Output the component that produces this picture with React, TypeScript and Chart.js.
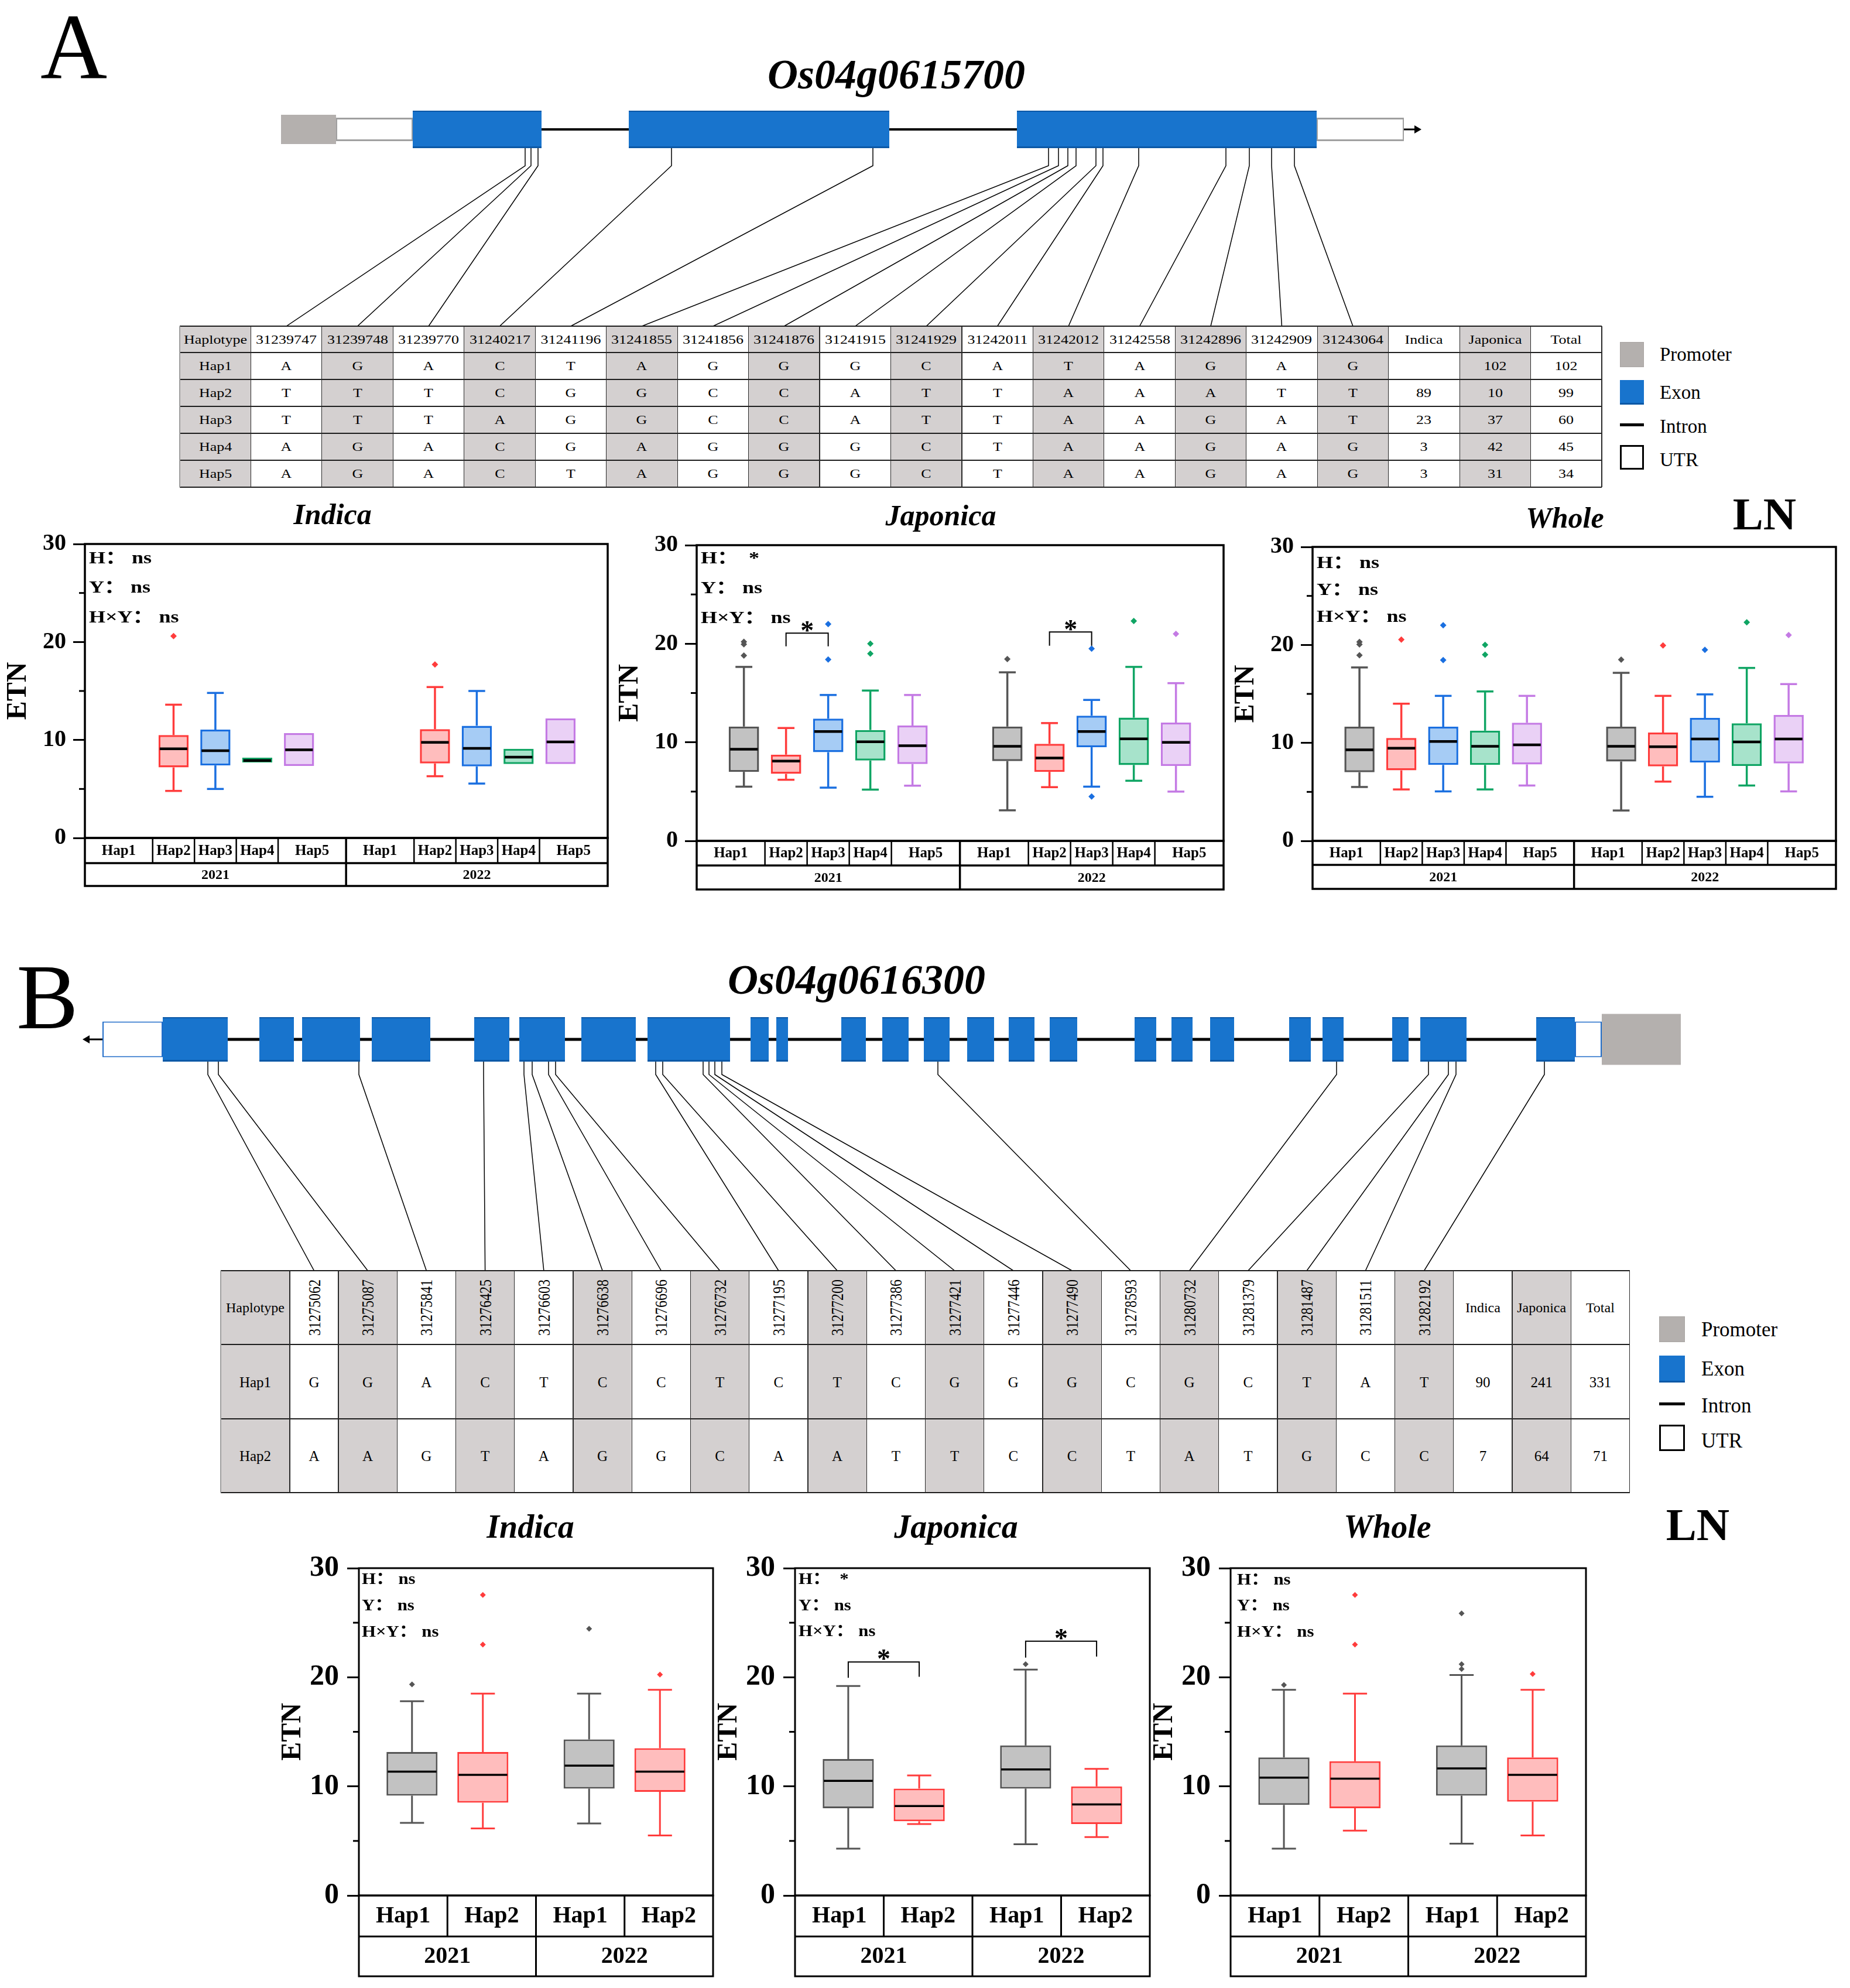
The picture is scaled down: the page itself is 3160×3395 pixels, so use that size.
import React, { useEffect, useRef } from 'react';
import { Chart, registerables } from 'chart.js';

Chart.register(...registerables);

const SERIF = '"Liberation Serif", "Times New Roman", "Noto Sans CJK SC", serif';
const GRAY = '#D4D0D0';
const EXON = '#1874CD';
const EXON_EDGE = '#0C58A6';
const PROMOTER = '#B4B0AE';

// ---------------- gene models (schematic units along each gene drawing) ----------------
const GENE_A_PROMOTER = [[0, 94]];
const GENE_A_UTR = [[94, 225], [1769, 1918]];
const GENE_A_EXONS = [[225, 445], [594, 1039], [1257, 1769]];
const GENE_A_INTRON = [[225, 1769]];
const GENE_A_ARROW = [1918, 1948];
const GENE_A_SNP_SITES = [417, 427, 439, 667, 1011, 1311, 1328, 1344, 1358, 1392, 1404, 1465, 1614, 1654, 1692, 1731];

const GENE_B_UTR = [[0, 103], [2515, 2561]];
const GENE_B_PROMOTER = [[2561, 2696]];
const GENE_B_EXONS = [[103, 214], [268, 327], [341, 440], [460, 560], [635, 695], [712, 790], [818, 911], [931, 1072], [1107, 1138], [1151, 1171], [1262, 1304], [1332, 1377], [1403, 1447], [1477, 1523], [1548, 1592], [1618, 1665], [1763, 1800], [1826, 1862], [1892, 1933], [2027, 2064], [2084, 2120], [2203, 2231], [2251, 2330], [2449, 2515]];
const GENE_B_INTRON = [[103, 2515]];
const GENE_B_ARROW = [0, -34];
const GENE_B_SNP_SITES = [180, 198, 438, 651, 720, 734, 762, 774, 945, 957, 1026, 1036, 1046, 1058, 1427, 2108, 2265, 2299, 2312, 2463];

// ---------------- haplotype tables ----------------
const A_SNP_IDS = ['31239747', '31239748', '31239770', '31240217', '31241196', '31241855', '31241856', '31241876', '31241915', '31241929', '31242011', '31242012', '31242558', '31242896', '31242909', '31243064'];
const HAPS_A = ['Hap1', 'Hap2', 'Hap3', 'Hap4', 'Hap5'];
const A_ALLELES = ['AGACTAGGGCATAGAG', 'TTTCGGCCATTAAATT', 'TTTAGGCCATTAAGAT', 'AGACGAGGGCTAAGAG', 'AGACTAGGGCTAAGAG'];
const A_INDICA_N = ['', '89', '23', '3', '3'];
const A_JAPONICA_N = ['102', '10', '37', '42', '31'];
const A_TOTAL_N = ['102', '99', '60', '45', '34'];

const B_SNP_IDS = ['31275062', '31275087', '31275841', '31276425', '31276603', '31276638', '31276696', '31276732', '31277195', '31277200', '31277386', '31277421', '31277446', '31277490', '31278593', '31280732', '31281379', '31281487', '31281511', '31282192'];
const HAPS_B = ['Hap1', 'Hap2'];
const B_ALLELES = ['GGACTCCTCTCGGGCGCTAT', 'AAGTAGGCAATTCCTATGCC'];
const B_INDICA_N = ['90', '7'];
const B_JAPONICA_N = ['241', '64'];
const B_TOTAL_N = ['331', '71'];

const COUNT_HEADERS = ['Indica', 'Japonica', 'Total'];
const LEGEND_LABELS = ['Promoter', 'Exon', 'Intron', 'UTR'];

// ---------------- box plot data: [lower whisker, Q1, median, Q3, upper whisker] ----------------
const YEARS = ['2021', '2022'];
const POS_A = [[1, 2, 3, 4, 5], [7.25, 8.25, 9.25, 10.25, 11.25]];
const RANGE_A = [-0.12, 12.38];
const POS_B = [[1, 2], [3.5, 4.5]];
const RANGE_B = [0.25, 5.25];

const A_IND_2021 = [null, [4.8, 7.2, 9.1, 10.5, 13.6], [5.0, 7.4, 8.9, 11.05, 14.8], [7.7, 7.7, 7.9, 8.2, 8.2], [7.35, 7.35, 9.0, 10.7, 10.7]];
const A_IND_2022 = [null, [6.3, 7.6, 9.75, 11.1, 15.4], [5.55, 7.3, 9.15, 11.45, 15.0], [7.55, 7.55, 8.25, 9.1, 9.1], [7.55, 7.55, 9.8, 12.2, 12.2]];
const A_IND_OUT_2021 = [[], [20.6], [], [], []];
const A_IND_OUT_2022 = [[], [17.7], [], [], []];

const A_JAP_2021 = [[5.5, 7.0, 9.3, 11.6, 17.65], [6.2, 6.8, 8.1, 8.75, 11.45], [5.4, 9.0, 11.1, 12.4, 14.8], [5.2, 8.15, 10.05, 11.25, 15.25], [5.6, 7.8, 9.65, 11.7, 14.8]];
const A_JAP_2022 = [[3.1, 8.1, 9.6, 11.6, 17.1], [5.45, 7.0, 8.4, 9.85, 11.95], [5.5, 9.5, 11.1, 12.7, 14.3], [6.1, 7.7, 10.35, 12.5, 17.65], [5.0, 7.6, 10.0, 12.0, 16.0]];
const A_JAP_OUT_2021 = [[20.2, 19.95, 18.8], [], [22.0, 18.4], [20.0, 19.0], []];
const A_JAP_OUT_2022 = [[18.45], [], [19.5, 4.5], [22.3], [21.0]];

const A_WHO_2021 = [[5.5, 7.0, 9.3, 11.65, 17.7], [5.25, 7.2, 9.45, 10.5, 14.0], [5.05, 7.75, 10.15, 11.65, 14.8], [5.25, 7.75, 9.65, 11.25, 15.25], [5.65, 7.8, 9.8, 12.05, 14.8]];
const A_WHO_2022 = [[3.1, 8.1, 9.65, 11.65, 17.15], [6.05, 7.6, 9.6, 11.05, 14.8], [4.5, 8.0, 10.4, 12.55, 14.95], [5.65, 7.65, 10.1, 12.0, 17.65], [5.05, 7.9, 10.4, 12.85, 16.0]];
const A_WHO_OUT_2021 = [[20.3, 20.05, 18.95], [20.55], [22.0, 18.45], [20.0, 19.0], []];
const A_WHO_OUT_2022 = [[18.5], [19.95], [19.5], [22.3], [21.0]];

const B_IND_2021 = [[6.65, 9.15, 11.35, 13.15, 17.8], [6.15, 8.5, 11.05, 13.15, 18.5]];
const B_IND_2022 = [[6.6, 9.8, 11.9, 14.3, 18.5], [5.5, 9.5, 11.35, 13.5, 18.85]];
const B_IND_OUT_2021 = [[19.35], [27.55, 23.0]];
const B_IND_OUT_2022 = [[24.45], [20.25]];

const B_JAP_2021 = [[4.3, 8.0, 10.5, 12.5, 19.2], [6.55, 6.8, 8.2, 9.8, 11.0]];
const B_JAP_2022 = [[4.7, 9.8, 11.55, 13.75, 20.7], [5.35, 6.55, 8.35, 10.0, 11.6]];
const B_JAP_OUT_2021 = [[], []];
const B_JAP_OUT_2022 = [[21.2], []];

const B_WHO_2021 = [[4.3, 8.3, 10.8, 12.65, 18.85], [5.95, 8.0, 10.7, 12.3, 18.5]];
const B_WHO_2022 = [[4.75, 9.15, 11.65, 13.75, 20.2], [5.5, 8.6, 11.05, 12.65, 18.85]];
const B_WHO_OUT_2021 = [[19.3], [27.55, 23.0]];
const B_WHO_OUT_2022 = [[25.85, 21.2, 20.75], [20.3]];

// significance brackets: year group, from hap, to hap, bar height, left leg end, right leg end
const A_JAP_BRACKETS = [[0, 1, 2, 21.07, 19.74, 19.74], [1, 1, 2, 21.2, 19.8, 19.8]];
const B_JAP_BRACKETS = [[0, 0, 1, 21.4, 19.95, 20.05], [1, 0, 1, 23.3, 21.8, 21.9]];

const STATS_NS = ['H： ns', 'Y： ns', 'H×Y： ns'];
const STATS_H = ['H：  *', 'Y： ns', 'H×Y： ns'];

const STROKE = ['#555555', '#FF3C3C', '#1A6FE0', '#10A564', '#C47AE4'];
const FILL = ['#C2C2C2', '#FFBDBD', '#A6CCF5', '#A7E3CB', '#EAD1F6'];

// ---------------- styles ----------------
const STYLE_A = { tickFont: 40, tickPad: 12, etnFont: 48, etnOff: 113, catFont: 25, yearFont: 24, boxW: 0.72, capW: 0.4, lw: 3.5, medW: 4.5, frameW: 3.5, innerW: 2.5, outR: 5.5, starFont: 46, starGap: 13, bracketW: 2, tickW: 3, statFont: 30, statSx: 1.2 };
const STYLE_B = { tickFont: 50, tickPad: 14, etnFont: 48, etnOff: 112, catFont: 40, yearFont: 40, boxW: 0.72, capW: 0.34, lw: 3, medW: 3.5, frameW: 3, innerW: 3, outR: 5, starFont: 46, starGap: 14, bracketW: 2, tickW: 3, statFont: 28, statSx: 1.1 };

// ---------------- gene chart ----------------
function makeGenePlugin(g: any) {
  return {
    id: 'geneDecor',
    afterDatasetsDraw(chart: any) {
      const { ctx } = chart;
      const xs = chart.scales.x;
      const xt = chart.scales.xt;
      const cy = chart.scales.y.getPixelForValue(0);
      const y0 = cy + g.exonT / 2;
      const y1 = y0 + g.kink;
      const y2 = chart.height;
      ctx.save();
      ctx.strokeStyle = '#000';
      ctx.lineWidth = 1.5;
      g.sites.forEach((s: number, i: number) => {
        const x0 = xs.getPixelForValue(s);
        const x2 = xt.getPixelForValue(g.colCenters[i]);
        ctx.beginPath();
        ctx.moveTo(x0, y0);
        ctx.lineTo(x0, y1);
        ctx.lineTo(x2, y2);
        ctx.stroke();
      });
      // strand arrow
      const a0 = xs.getPixelForValue(g.arrow[0]);
      const a1 = xs.getPixelForValue(g.arrow[1]);
      const dir = Math.sign(a1 - a0);
      const head = 12;
      ctx.lineWidth = 3;
      ctx.beginPath();
      ctx.moveTo(a0, cy);
      ctx.lineTo(a1 - dir * head, cy);
      ctx.stroke();
      ctx.fillStyle = '#000';
      ctx.beginPath();
      ctx.moveTo(a1, cy);
      ctx.lineTo(a1 - dir * head, cy - 7);
      ctx.lineTo(a1 - dir * head, cy + 7);
      ctx.closePath();
      ctx.fill();
      ctx.restore();
    },
  };
}

function geneConfig(g: any) {
  const mk = (arr: number[][]) => arr.map(([a, b]) => ({ x: [a, b], y: 'g' }));
  const common = { grouped: false, borderSkipped: false, inflateAmount: 0, xAxisID: 'x', yAxisID: 'y' };
  return {
    type: 'bar',
    data: {
      labels: ['g'],
      datasets: [
        { ...common, label: 'intron', data: mk(g.intron), backgroundColor: '#000', barThickness: g.intronT, order: 4 },
        { ...common, label: 'UTR', data: mk(g.utr), backgroundColor: '#fff', borderColor: g.utrColor, borderWidth: g.utrBW, barThickness: g.utrT, order: 3 },
        { ...common, label: 'promoter', data: mk(g.promoter), backgroundColor: PROMOTER, barThickness: g.promT, order: 2 },
        { ...common, label: 'exon', data: mk(g.exons), backgroundColor: EXON, borderColor: EXON_EDGE, borderWidth: { top: 2, bottom: 3, left: 0, right: 0 }, barThickness: g.exonT, order: 1 },
      ],
    },
    options: {
      indexAxis: 'y',
      animation: false,
      responsive: false,
      devicePixelRatio: 1,
      events: [],
      layout: { padding: { top: 0, left: 0, right: 0, bottom: g.h - g.rowH } },
      plugins: { legend: { display: false }, tooltip: { enabled: false } },
      scales: {
        x: { type: 'linear', min: g.xmin, max: g.xmax, display: false },
        xt: { type: 'linear', axis: 'x', min: g.tmin, max: g.tmax, display: false },
        y: { type: 'category', display: false, offset: true },
      },
    },
    plugins: [makeGenePlugin(g)],
  };
}

function GeneChart({ g }: { g: any }) {
  const ref = useRef<HTMLCanvasElement>(null);
  useEffect(() => {
    const chart = new Chart(ref.current as any, geneConfig(g) as any);
    return () => chart.destroy();
  }, []);
  return <canvas ref={ref} width={g.w} height={g.h} style={{ position: 'absolute', left: g.left, top: g.top, width: g.w, height: g.h }} />;
}

// ---------------- tables ----------------
const A_TABLE = { left: 307, top: 557, widths: Array(20).fill(121.45), heights: [45, 46, 46, 46, 46, 46] };
const B_TABLE = { left: 377, top: 2170, widths: [118, 83, ...Array(22).fill(100.25)], heights: [126, 127, 126] };

function columnCenters(layout: any, n: number, unit: number) {
  const out: number[] = [];
  let acc = layout.widths[0];
  for (let i = 0; i < n; i++) {
    const w = layout.widths[i + 1];
    out.push((acc + w / 2) / unit);
    acc += w;
  }
  return out;
}

function HapTable({ layout, header, rows, font, headFont, sx, rotCount, rotFont, rotSy }: any) {
  const { left, top, widths, heights } = layout;
  const xs: number[] = [];
  let acc = 0;
  widths.forEach((w: number) => { xs.push(acc); acc += w; });
  const W = acc;
  const ys: number[] = [];
  let ay = 0;
  heights.forEach((h: number) => { ys.push(ay); ay += h; });
  const H = ay;
  const kids: any[] = [];
  widths.forEach((w: number, i: number) => kids.push(
    <div key={`bg${i}`} style={{ position: 'absolute', left: xs[i], top: 0, width: w, height: H, background: i % 2 === 0 ? GRAY : '#fff' }} />
  ));
  const cell = (key: string, cx: number, cy: number, txt: string, size: number, rot: boolean, s: number) => (
    <div key={key} style={{ position: 'absolute', left: cx, top: cy, fontFamily: SERIF, fontSize: size, lineHeight: 1, whiteSpace: 'nowrap', color: '#000', transform: rot ? `translate(-50%,-50%) rotate(-90deg) scaleY(${s})` : `translate(-50%,-50%) scaleX(${s})` }}>{txt}</div>
  );
  header.forEach((t: string, i: number) => {
    const rot = rotCount > 0 && i >= 1 && i <= rotCount;
    kids.push(cell(`h${i}`, xs[i] + widths[i] / 2, heights[0] / 2, t, rot ? rotFont : headFont, rot, rot ? rotSy : sx));
  });
  rows.forEach((r: string[], ri: number) => r.forEach((t: string, i: number) => {
    kids.push(cell(`c${ri}_${i}`, xs[i] + widths[i] / 2, ys[ri + 1] + heights[ri + 1] / 2, t, font, false, sx));
  }));
  [...ys, H].forEach((yy, k) => kids.push(
    <div key={`hl${k}`} style={{ position: 'absolute', left: 0, top: yy - 1.25, width: W, height: 2.5, background: '#1E1E1E' }} />
  ));
  [...xs, W].forEach((xx, k) => kids.push(
    <div key={`vl${k}`} style={{ position: 'absolute', left: xx - 0.6, top: 0, width: 1.2, height: H, background: k === 0 ? '#A0A0A0' : '#2A2A2A' }} />
  ));
  return <div style={{ position: 'absolute', left, top, width: W, height: H }}>{kids}</div>;
}

function GeneLegend({ x, w, textX, font, items }: any) {
  return (
    <>
      {items.map((it: any, i: number) => {
        let sw: any;
        if (i === 0) sw = { background: PROMOTER, border: '1px solid #A8A4A2', boxSizing: 'border-box' };
        else if (i === 1) sw = { background: EXON, borderBottom: '3px solid ' + EXON_EDGE, boxSizing: 'border-box' };
        else if (i === 2) sw = { background: '#000' };
        else sw = { background: '#fff', border: '3px solid #000', boxSizing: 'border-box' };
        return (
          <React.Fragment key={i}>
            <div style={{ position: 'absolute', left: x, top: it.top, width: w, height: it.h, ...sw }} />
            <div style={{ position: 'absolute', left: textX, top: it.ty, transform: 'translate(0,-50%)', fontFamily: SERIF, fontSize: font, lineHeight: 1, whiteSpace: 'nowrap', color: '#000' }}>{LEGEND_LABELS[i]}</div>
          </React.Fragment>
        );
      })}
    </>
  );
}

// ---------------- box plot panels ----------------
function makePanelPlugin(p: any) {
  const st = p.st;
  return {
    id: 'panelDecor',
    beforeDatasetsDraw(chart: any) {
      const { ctx } = chart;
      const x = chart.scales.x;
      const y = chart.scales.y;
      const u = Math.abs(x.getPixelForValue(1) - x.getPixelForValue(0));
      ctx.save();
      ctx.lineWidth = st.lw;
      p.stats.forEach((grp: any[], gi: number) => grp.forEach((s: number[] | null, h: number) => {
        if (!s) return;
        const cx = x.getPixelForValue(p.pos[gi][h]);
        const hw = (st.capW * u) / 2;
        ctx.strokeStyle = STROKE[h];
        const whisk = (from: number, to: number) => {
          const a = y.getPixelForValue(from);
          const b = y.getPixelForValue(to);
          ctx.beginPath();
          ctx.moveTo(cx, a);
          ctx.lineTo(cx, b);
          ctx.stroke();
          ctx.beginPath();
          ctx.moveTo(cx - hw, b);
          ctx.lineTo(cx + hw, b);
          ctx.stroke();
        };
        if (s[0] < s[1]) whisk(s[1], s[0]);
        if (s[4] > s[3]) whisk(s[3], s[4]);
      }));
      ctx.restore();
    },
    afterDatasetsDraw(chart: any) {
      const { ctx } = chart;
      const x = chart.scales.x;
      const y = chart.scales.y;
      const u = Math.abs(x.getPixelForValue(1) - x.getPixelForValue(0));
      const half = (st.boxW * u) / 2 - st.lw * 0.6;
      ctx.save();
      ctx.strokeStyle = '#000';
      ctx.lineWidth = st.medW;
      p.stats.forEach((grp: any[], gi: number) => grp.forEach((s: number[] | null, h: number) => {
        if (!s) return;
        const cx = x.getPixelForValue(p.pos[gi][h]);
        const yy = y.getPixelForValue(s[2]);
        ctx.beginPath();
        ctx.moveTo(cx - half, yy);
        ctx.lineTo(cx + half, yy);
        ctx.stroke();
      }));
      ctx.restore();
    },
    afterDraw(chart: any) {
      const { ctx, chartArea: ca } = chart;
      const x = chart.scales.x;
      const y = chart.scales.y;
      ctx.save();
      ctx.strokeStyle = '#000';
      ctx.fillStyle = '#000';
      // minor ticks
      ctx.lineWidth = st.tickW;
      y.ticks.forEach((t: any) => {
        if (t.value % 10 === 0) return;
        const yy = y.getPixelForValue(t.value);
        ctx.beginPath();
        ctx.moveTo(ca.left - 10, yy);
        ctx.lineTo(ca.left, yy);
        ctx.stroke();
      });
      // frame
      ctx.lineWidth = st.frameW;
      ctx.strokeRect(ca.left, ca.top, ca.right - ca.left, ca.bottom - ca.top);
      // category table under the plot
      const T = ca.bottom;
      const M = T + p.rows[0];
      const B = M + p.rows[1];
      ctx.strokeRect(ca.left, T, ca.right - ca.left, B - T);
      ctx.beginPath();
      ctx.moveTo(ca.left, M);
      ctx.lineTo(ca.right, M);
      ctx.stroke();
      const px = (v: number) => x.getPixelForValue(v);
      const lastA = p.pos[0][p.pos[0].length - 1];
      const sep = (px(lastA) + px(p.pos[1][0])) / 2;
      const groupEdges = [[ca.left, sep], [sep, ca.right]];
      ctx.beginPath();
      ctx.moveTo(sep, T);
      ctx.lineTo(sep, B);
      ctx.stroke();
      ctx.textAlign = 'center';
      ctx.textBaseline = 'middle';
      p.pos.forEach((grp: number[], gi: number) => {
        const bounds = [groupEdges[gi][0]];
        for (let i = 0; i < grp.length - 1; i++) bounds.push((px(grp[i]) + px(grp[i + 1])) / 2);
        bounds.push(groupEdges[gi][1]);
        ctx.lineWidth = st.innerW;
        for (let i = 1; i < bounds.length - 1; i++) {
          ctx.beginPath();
          ctx.moveTo(bounds[i], T);
          ctx.lineTo(bounds[i], M);
          ctx.stroke();
        }
        ctx.font = `bold ${st.catFont}px ${SERIF}`;
        p.haps.forEach((hn: string, i: number) => ctx.fillText(hn, (bounds[i] + bounds[i + 1]) / 2, (T + M) / 2 + 1));
        ctx.font = `bold ${st.yearFont}px ${SERIF}`;
        ctx.fillText(YEARS[gi], (groupEdges[gi][0] + groupEdges[gi][1]) / 2, (M + B) / 2 + 1);
      });
      // significance brackets
      ctx.lineWidth = st.bracketW;
      p.brackets.forEach((b: number[]) => {
        const [gi, h1, h2, yh, l1, l2] = b;
        const x1 = px(p.pos[gi][h1]);
        const x2 = px(p.pos[gi][h2]);
        const yy = y.getPixelForValue(yh);
        ctx.beginPath();
        ctx.moveTo(x1, y.getPixelForValue(l1));
        ctx.lineTo(x1, yy);
        ctx.lineTo(x2, yy);
        ctx.lineTo(x2, y.getPixelForValue(l2));
        ctx.stroke();
        ctx.font = `bold ${st.starFont}px ${SERIF}`;
        ctx.textBaseline = 'alphabetic';
        ctx.fillText('*', (x1 + x2) / 2, yy + st.starFont * 0.52 - st.starGap);
        ctx.textBaseline = 'middle';
      });
      ctx.restore();
    },
  };
}

function panelConfig(p: any) {
  const st = p.st;
  const u = (p.frame.r - p.frame.l) / (p.range[1] - p.range[0]);
  const datasets: any[] = [];
  p.haps.forEach((name: string, h: number) => {
    const boxes: any[] = [];
    p.stats.forEach((grp: any[], gi: number) => {
      const s = grp[h];
      if (s) boxes.push({ x: p.pos[gi][h], y: [s[1], s[3]] });
    });
    datasets.push({ type: 'bar', label: name, data: boxes, backgroundColor: FILL[h], borderColor: STROKE[h], borderWidth: st.lw, borderSkipped: false, barThickness: st.boxW * u, grouped: false, inflateAmount: 0, order: 2 });
    const pts: any[] = [];
    p.outs.forEach((grp: number[][], gi: number) => grp[h].forEach((v: number) => pts.push({ x: p.pos[gi][h], y: v })));
    datasets.push({ type: 'scatter', label: name + ' outliers', data: pts, pointStyle: 'rectRot', pointRadius: st.outR, backgroundColor: STROKE[h], borderColor: STROKE[h], pointBackgroundColor: STROKE[h], pointBorderWidth: 0, showLine: false, order: 1 });
  });
  return {
    type: 'bar',
    data: { datasets },
    options: {
      animation: false,
      responsive: false,
      devicePixelRatio: 1,
      events: [],
      layout: { padding: { top: 40, right: 12, bottom: p.rows[0] + p.rows[1] + 12, left: 0 } },
      plugins: { legend: { display: false }, tooltip: { enabled: false } },
      scales: {
        x: { type: 'linear', min: p.range[0], max: p.range[1], display: false, offset: false },
        y: {
          type: 'linear',
          min: 0,
          max: 30,
          position: 'left',
          afterFit: (s: any) => { s.width = 140; },
          border: { display: false },
          grid: {
            drawOnChartArea: false,
            drawTicks: true,
            tickLength: 20,
            tickWidth: st.tickW,
            color: 'rgba(0,0,0,0)',
            tickColor: (c: any) => (c.tick && c.tick.value % 10 === 0 ? '#000' : 'rgba(0,0,0,0)'),
          },
          ticks: {
            stepSize: 5,
            autoSkip: false,
            padding: st.tickPad,
            color: '#000',
            font: { family: SERIF, size: st.tickFont, weight: 'bold' },
            callback: (v: any) => (Number(v) % 10 === 0 ? String(v) : ''),
          },
          title: {
            display: true,
            text: 'ETN',
            color: '#000',
            font: { family: SERIF, size: st.etnFont, weight: 'bold', lineHeight: 1 },
            padding: { top: 140 - st.etnOff - st.etnFont / 2, bottom: 0 },
          },
        },
      },
    },
    plugins: [makePanelPlugin(p)],
  };
}

function PanelChart({ p }: { p: any }) {
  const ref = useRef<HTMLCanvasElement>(null);
  const left = p.frame.l - 140;
  const top = p.frame.t - 40;
  const width = p.frame.r + 12 - left;
  const height = p.frame.b + p.rows[0] + p.rows[1] + 12 - top;
  useEffect(() => {
    const chart = new Chart(ref.current as any, panelConfig(p) as any);
    return () => chart.destroy();
  }, []);
  return <canvas ref={ref} width={width} height={height} style={{ position: 'absolute', left, top, width, height }} />;
}

function Label({ x, y, size, bold = false, italic = false, align = 'center', sx = 1, children }: any) {
  const tx = align === 'center' ? '-50%' : '0';
  return (
    <div style={{ position: 'absolute', left: x, top: y, fontFamily: SERIF, fontSize: size, fontWeight: bold ? 700 : 400, fontStyle: italic ? 'italic' : 'normal', lineHeight: 1, whiteSpace: 'pre', color: '#000', transform: `translate(${tx},-50%) scaleX(${sx})`, transformOrigin: align === 'center' ? '50% 50%' : '0 50%' }}>
      {children}
    </div>
  );
}

const PANELS = [
  { key: 'aInd', frame: { l: 145, t: 929, r: 1038, b: 1431 }, rows: [43, 39], pos: POS_A, range: RANGE_A, stats: [A_IND_2021, A_IND_2022], outs: [A_IND_OUT_2021, A_IND_OUT_2022], haps: HAPS_A, brackets: [], st: STYLE_A, title: 'Indica', tx: 568, ty: 878, tsize: 50, sX: 152, sYs: [952, 1002, 1053], stats_t: STATS_NS },
  { key: 'aJap', frame: { l: 1190, t: 931, r: 2090, b: 1436 }, rows: [42, 41], pos: POS_A, range: RANGE_A, stats: [A_JAP_2021, A_JAP_2022], outs: [A_JAP_OUT_2021, A_JAP_OUT_2022], haps: HAPS_A, brackets: A_JAP_BRACKETS, st: STYLE_A, title: 'Japonica', tx: 1607, ty: 880, tsize: 50, sX: 1197, sYs: [952, 1003, 1054], stats_t: STATS_H },
  { key: 'aWho', frame: { l: 2242, t: 934, r: 3136, b: 1436 }, rows: [41, 41], pos: POS_A, range: RANGE_A, stats: [A_WHO_2021, A_WHO_2022], outs: [A_WHO_OUT_2021, A_WHO_OUT_2022], haps: HAPS_A, brackets: [], st: STYLE_A, title: 'Whole', tx: 2673, ty: 884, tsize: 50, sX: 2249, sYs: [960, 1006, 1052], stats_t: STATS_NS },
  { key: 'bInd', frame: { l: 613, t: 2674, r: 1218, b: 3237 }, rows: [70, 68], pos: POS_B, range: RANGE_B, stats: [B_IND_2021, B_IND_2022], outs: [B_IND_OUT_2021, B_IND_OUT_2022], haps: HAPS_B, brackets: [], st: STYLE_B, title: 'Indica', tx: 906, ty: 2607, tsize: 56, sX: 618, sYs: [2696, 2741, 2786], stats_t: STATS_NS },
  { key: 'bJap', frame: { l: 1358, t: 2674, r: 1964, b: 3237 }, rows: [70, 68], pos: POS_B, range: RANGE_B, stats: [B_JAP_2021, B_JAP_2022], outs: [B_JAP_OUT_2021, B_JAP_OUT_2022], haps: HAPS_B, brackets: B_JAP_BRACKETS, st: STYLE_B, title: 'Japonica', tx: 1633, ty: 2607, tsize: 56, sX: 1364, sYs: [2696, 2741, 2785], stats_t: STATS_H },
  { key: 'bWho', frame: { l: 2102, t: 2674, r: 2709, b: 3237 }, rows: [70, 68], pos: POS_B, range: RANGE_B, stats: [B_WHO_2021, B_WHO_2022], outs: [B_WHO_OUT_2021, B_WHO_OUT_2022], haps: HAPS_B, brackets: [], st: STYLE_B, title: 'Whole', tx: 2370, ty: 2607, tsize: 56, sX: 2113, sYs: [2697, 2741, 2786], stats_t: STATS_NS },
];

const GENE_A = {
  left: 0, top: 170, w: 3160, h: 387, rowH: 102,
  xmin: -480, xmax: 2680,
  tmin: -A_TABLE.left / 121.45, tmax: (3160 - A_TABLE.left) / 121.45,
  colCenters: columnCenters(A_TABLE, A_SNP_IDS.length, 121.45),
  promoter: GENE_A_PROMOTER, utr: GENE_A_UTR, exons: GENE_A_EXONS, intron: GENE_A_INTRON, arrow: GENE_A_ARROW, sites: GENE_A_SNP_SITES,
  exonT: 64, utrT: 40, promT: 50, intronT: 4, kink: 30,
  utrColor: '#A0A0A0', utrBW: { top: 3, bottom: 3, left: 2, right: 2 },
};

const GENE_B = {
  left: 0, top: 1719, w: 3160, h: 451, rowH: 112,
  xmin: -175, xmax: 2985,
  tmin: -B_TABLE.left / 100.25, tmax: (3160 - B_TABLE.left) / 100.25,
  colCenters: columnCenters(B_TABLE, B_SNP_IDS.length, 100.25),
  promoter: GENE_B_PROMOTER, utr: GENE_B_UTR, exons: GENE_B_EXONS, intron: GENE_B_INTRON, arrow: GENE_B_ARROW, sites: GENE_B_SNP_SITES,
  exonT: 76, utrT: 61, promT: 87, intronT: 5, kink: 22,
  utrColor: '#1F6BC8', utrBW: 2,
};

export default function App() {
  const headerA = ['Haplotype', ...A_SNP_IDS, ...COUNT_HEADERS];
  const rowsA = HAPS_A.map((h, i) => [h, ...A_ALLELES[i].split(''), A_INDICA_N[i], A_JAPONICA_N[i], A_TOTAL_N[i]]);
  const headerB = ['Haplotype', ...B_SNP_IDS, ...COUNT_HEADERS];
  const rowsB = HAPS_B.map((h, i) => [h, ...B_ALLELES[i].split(''), B_INDICA_N[i], B_JAPONICA_N[i], B_TOTAL_N[i]]);
  return (
    <div style={{ position: 'absolute', left: 0, top: 0, width: 3160, height: 3395, overflow: 'hidden', background: '#fff' }}>
      <Label x={126} y={80} size={158}>A</Label>
      <Label x={1531} y={127} size={72} bold italic>Os04g0615700</Label>
      <GeneChart g={GENE_A} />
      <HapTable layout={A_TABLE} header={headerA} rows={rowsA} font={22} headFont={22} sx={1.18} rotCount={0} />
      <GeneLegend x={2767} w={41} textX={2835} font={33} items={[{ top: 584, h: 43, ty: 605 }, { top: 649, h: 42, ty: 670 }, { top: 723, h: 5, ty: 728 }, { top: 760, h: 42, ty: 785 }]} />

      <Label x={81} y={1703} size={158}>B</Label>
      <Label x={1463} y={1673} size={72} bold italic>Os04g0616300</Label>
      <GeneChart g={GENE_B} />
      <HapTable layout={B_TABLE} header={headerB} rows={rowsB} font={25} headFont={24} sx={1} rotCount={B_SNP_IDS.length} rotFont={24} rotSy={1.25} />
      <GeneLegend x={2834} w={44} textX={2906} font={35} items={[{ top: 2248, h: 44, ty: 2270 }, { top: 2315, h: 46, ty: 2337 }, { top: 2395, h: 5, ty: 2400 }, { top: 2433, h: 45, ty: 2460 }]} />

      {PANELS.map((p) => (
        <React.Fragment key={p.key}>
          <PanelChart p={p} />
          <Label x={p.tx} y={p.ty} size={p.tsize} bold italic>{p.title}</Label>
          {p.stats_t.map((t, i) => (
            <Label key={i} x={p.sX} y={p.sYs[i]} size={p.st.statFont} bold align="left" sx={p.st.statSx}>{t}</Label>
          ))}
        </React.Fragment>
      ))}
      <Label x={3014} y={878} size={78} bold>LN</Label>
      <Label x={2900} y={2604} size={78} bold>LN</Label>
    </div>
  );
}
